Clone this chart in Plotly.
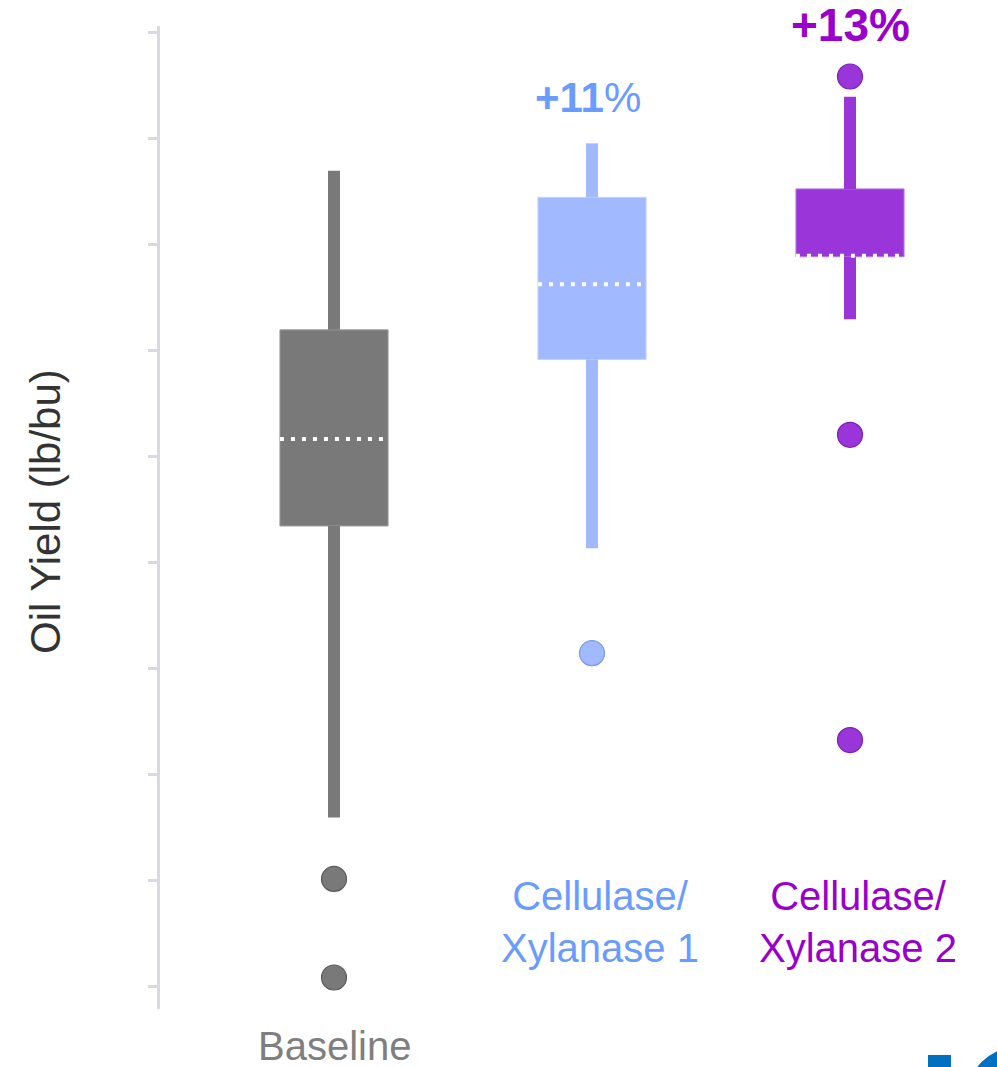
import plotly.graph_objects as go

# Oil yield distributions per treatment (lb/bu)
categories = ["Baseline", "Cellulase/<br>Xylanase 1", "Cellulase/<br>Xylanase 2"]
whisker_low = [0.959, 1.213, 1.429]
q1 = [1.234, 1.391, 1.488]
median = [1.316, 1.462, 1.489]
q3 = [1.419, 1.544, 1.552]
whisker_high = [1.569, 1.595, 1.639]
outliers = [[0.901, 0.808], [1.114], [1.658, 1.320, 1.032]]
y_ticks = [0.8, 0.9, 1.0, 1.1, 1.2, 1.3, 1.4, 1.5, 1.6, 1.7]

box_colors = ["#797979", "#a1b9ff", "#9a35da"]
edge_colors = ["#9a9a9a", "#c3d2ff", "#b978ea"]
dot_edges = ["#5a5a5a", "#7d97e6", "#7a1fb8"]
label_colors = ["#7f7f7f", "#6a9bff", "#9900cc"]

W, H = 997, 1067
L, R, T, B = 160, 0, 26, 58
plot_w, plot_h = W - L - R, H - T - B
x_pos = list(range(len(categories)))
BOX_W = 0.419

fig = go.Figure()

# whiskers (two segments so they never cross the box)
for i in x_pos:
    fig.add_trace(go.Scatter(
        x=[i, i, None, i, i],
        y=[whisker_low[i], q1[i], None, q3[i], whisker_high[i]],
        mode="lines", line=dict(color=box_colors[i], width=12),
        hoverinfo="skip"))

# interquartile boxes
fig.add_trace(go.Bar(
    x=x_pos, base=q1, y=[hi - lo for hi, lo in zip(q3, q1)],
    width=BOX_W, marker=dict(color=box_colors, line=dict(color=edge_colors, width=1)),
    hoverinfo="skip"))

# dotted white median lines
for i in x_pos:
    fig.add_trace(go.Scatter(
        x=[i - BOX_W / 2, i + BOX_W / 2], y=[median[i], median[i]],
        mode="lines", line=dict(color="white", width=4, dash="4px,7px"),
        hoverinfo="skip"))

# outliers
for i in x_pos:
    fig.add_trace(go.Scatter(
        x=[i] * len(outliers[i]), y=outliers[i], mode="markers",
        marker=dict(size=25, color=box_colors[i], line=dict(color=dot_edges[i], width=1.2)),
        hoverinfo="skip"))

def px_x(px):
    return (px - L) / plot_w

def px_y(py):
    return (H - B - py) / plot_h

# category labels
fig.add_annotation(x=0, y=0, xref="x", yref="paper", yanchor="middle", yshift=-37,
                   text=categories[0], showarrow=False,
                   font=dict(size=40, color=label_colors[0]))
for i in (1, 2):
    fig.add_annotation(x=i, y=0, xref="x", yref="paper", yanchor="middle",
                       yshift=87, xshift=8,
                       text=categories[i], showarrow=False,
                       font=dict(size=40, color=label_colors[i]))

# yield gain over baseline median
gains = [round((m / median[0] - 1) * 100) for m in median]
fig.add_annotation(x=1, y=px_y(97), xref="x", yref="paper", yanchor="middle", xshift=-4,
                   text=f"<b>+{gains[1]}</b>%", showarrow=False,
                   font=dict(size=42, color=label_colors[1]))
fig.add_annotation(x=2, y=px_y(25), xref="x", yref="paper", yanchor="middle",
                   text=f"<b>+{gains[2]}%</b>", showarrow=False,
                   font=dict(size=46, color=label_colors[2]))

# axis title
fig.add_annotation(x=px_x(45), y=px_y(512), xref="paper", yref="paper",
                   xanchor="center", yanchor="middle",
                   text="Oil Yield (lb/bu)", textangle=-90, showarrow=False,
                   font=dict(size=42, color="#333333"))

# corner logo fragment
fig.add_shape(type="rect", xref="paper", yref="paper",
              x0=px_x(928), x1=px_x(951), y0=px_y(1090), y1=px_y(1055),
              fillcolor="#0070c0", line=dict(width=0))
fig.add_shape(type="circle", xref="paper", yref="paper",
              x0=px_x(1020 - 54), x1=px_x(1020 + 54), y0=px_y(1100 + 54), y1=px_y(1100 - 54),
              fillcolor="#0070c0", line=dict(width=0))

fig.update_layout(
    width=W, height=H, autosize=False,
    margin=dict(l=L, r=R, t=T, b=B),
    paper_bgcolor="white", plot_bgcolor="white",
    showlegend=False,
    font=dict(family="Liberation Sans, Arial, sans-serif"),
    xaxis=dict(range=[-174 / 258, (W - L - 174) / 258], showline=False, showgrid=False,
               zeroline=False, showticklabels=False, ticks="", fixedrange=True),
    yaxis=dict(range=[0.8 - 23 / 1060, 1.7 + 6 / 1060], tickvals=y_ticks,
               showticklabels=False, ticks="outside", ticklen=9, tickwidth=3,
               tickcolor="#d9d9e4", showline=True, linewidth=3, linecolor="#d9d9e4",
               showgrid=False, zeroline=False, fixedrange=True),
)

fig.write_html("out.html")
